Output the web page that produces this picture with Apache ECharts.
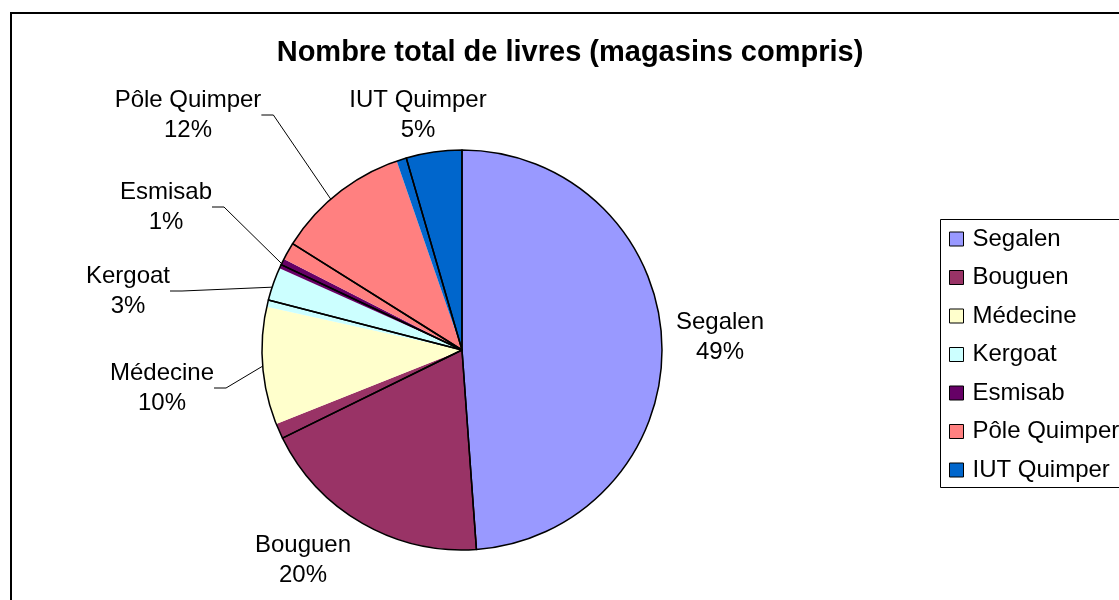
<!DOCTYPE html>
<html>
<head>
<meta charset="utf-8">
<title>Nombre total de livres</title>
<script src="https://cdn.jsdelivr.net/npm/echarts@6/dist/echarts.min.js"></script>
<style>
  html, body { margin: 0; padding: 0; background: #fff; }
  #chart { width: 1119px; height: 600px; }
</style>
</head>
<body>
<div id="chart"></div>
<script>
// parts des bibliothèques (en %)
const categories = ['Segalen', 'Bouguen', 'Médecine', 'Kergoat', 'Esmisab', 'Pôle Quimper', 'IUT Quimper']
const shares = [48.8, 20.2, 9.5, 3.25, 0.8, 12.2, 5.3]
// les contours noirs du graphique d'origine sont un peu décalés des remplissages
const outlineShares = [48.9, 18.9, 11.3, 3.0, 1.9, 11.6, 4.5]

const colors = ['#9999FF', '#993366', '#FFFFCC', '#CCFFFF', '#660066', '#FF8080', '#0066CC']
// position des étiquettes (centre du bloc) et présence d'un trait de rappel
const labelPos = [[720, 337], [303, 560], [162, 388], [128, 291], [166, 207], [188, 115], [418, 115]]
const withLine = [false, false, true, true, true, true, false]

const font = "'Liberation Sans', Arial, sans-serif"
const chart = echarts.init(document.getElementById('chart'))

chart.setOption({
  animation: false,
  backgroundColor: '#fff',
  color: colors,
  title: {
    text: 'Nombre total de livres (magasins compris)',
    left: 570,
    top: 38,
    padding: 0,
    textAlign: 'center',
    textStyle: { fontFamily: font, fontSize: 29, fontWeight: 'bold', color: '#000' }
  },
  legend: {
    orient: 'vertical',
    left: 949,
    top: 227,
    padding: 0,
    itemGap: 14.5,
    itemWidth: 14,
    itemHeight: 14,
    icon: 'rect',
    data: categories,
    selectedMode: false,
    itemStyle: { borderColor: '#000', borderWidth: 1 },
    textStyle: { fontFamily: font, fontSize: 24, lineHeight: 24, color: '#000', padding: [0, 0, 0, 4] }
  },
  graphic: [
    {
      type: 'rect',
      silent: true,
      shape: { x: 11, y: 13, width: 1200, height: 700 },
      style: { fill: null, stroke: '#000', lineWidth: 2 }
    },
    {
      type: 'rect',
      silent: true,
      shape: { x: 940.5, y: 219.5, width: 220, height: 268 },
      style: { fill: null, stroke: '#000', lineWidth: 1 }
    }
  ],
  series: [
    {
      type: 'pie',
      center: [462, 350],
      radius: 200,
      startAngle: 90,
      clockwise: true,
      avoidLabelOverlap: false,
      percentPrecision: 0,
      emphasis: { disabled: true },
      itemStyle: { borderWidth: 0 },
      label: {
        show: true,
        position: 'outside',
        formatter: '{b}\n{d}%',
        fontFamily: font,
        fontSize: 24,
        lineHeight: 30,
        color: '#000',
        align: 'center'
      },
      labelLine: {
        show: true,
        length: 10,
        length2: 12,
        lineStyle: { color: '#000', width: 1 }
      },
      labelLayout: function (params) {
        const p = labelPos[params.dataIndex]
        return { x: p[0], y: p[1], align: 'center', verticalAlign: 'middle' }
      },
      data: categories.map(function (name, i) {
        return { name: name, value: shares[i], labelLine: { show: withLine[i] } }
      })
    },
    {
      type: 'pie',
      center: [462, 350],
      radius: 200,
      startAngle: 90,
      clockwise: true,
      silent: true,
      z: 3,
      emphasis: { disabled: true },
      label: { show: false },
      labelLine: { show: false },
      itemStyle: { color: 'rgba(0,0,0,0)', borderColor: '#000', borderWidth: 1.5 },
      data: categories.map(function (name, i) {
        return { name: 'contour ' + name, value: outlineShares[i] }
      })
    }
  ]
})
</script>
</body>
</html>
